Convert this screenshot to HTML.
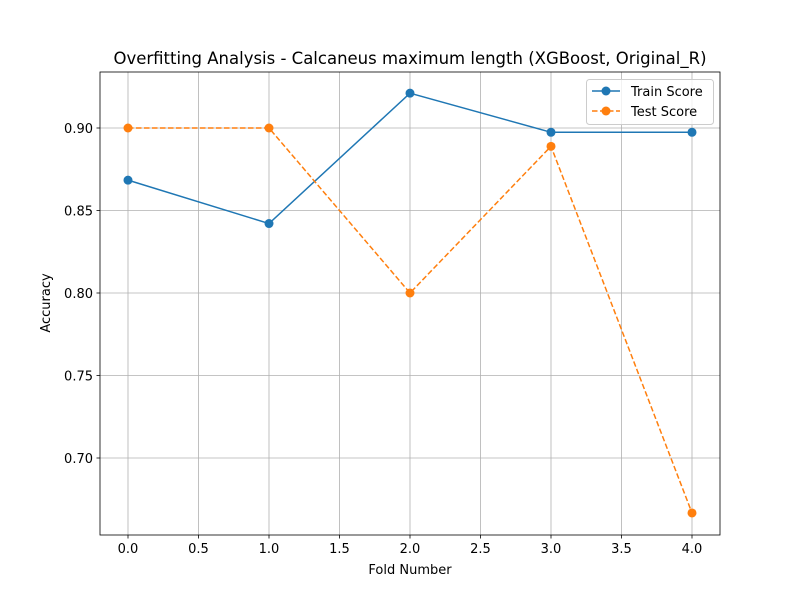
<!DOCTYPE html>
<html><head><meta charset="utf-8"><style>
body{margin:0;background:#fff;}
svg text{font-family:"DejaVu Sans","Liberation Sans",sans-serif;}
</style></head><body>
<svg id="chart" width="800" height="600" xmlns="http://www.w3.org/2000/svg">
<rect width="800" height="600" fill="#fff"/>
<g id="grid"></g><g id="axes"></g><g id="series"></g>
</svg>
<script>
const folds=[0,1,2,3,4];
const trainScores=[0.8684,0.8421,0.9211,0.8974,0.8974];
const testScores=[0.9,0.9,0.8,0.8889,0.6667];
const xTicks=[0.0,0.5,1.0,1.5,2.0,2.5,3.0,3.5,4.0];
const yTicks=[0.70,0.75,0.80,0.85,0.90];
const L=100,R=720,T=72,B=535;
const xs=v=>128+v*141;
const ys=v=>128+(0.90-v)*1650;
const NS="http://www.w3.org/2000/svg";
function mk(tag,attrs,parent,text){const e=document.createElementNS(NS,tag);for(const k in attrs)e.setAttribute(k,attrs[k]);if(text!==undefined)e.textContent=text;parent.appendChild(e);return e;}
const grid=document.getElementById('grid'),axes=document.getElementById('axes'),ser=document.getElementById('series'),svg=document.getElementById('chart');
xTicks.forEach(t=>{const x=xs(t);
 const g=mk('line',{x1:x,x2:x,y1:T,y2:B,stroke:'#b0b0b0','stroke-width':0.8},grid);
 
 
 mk('line',{x1:x,x2:x,y1:B,y2:B+3.5,stroke:'#000','stroke-width':0.8},axes);
 const l=mk('text',{x:x,y:B+18,'font-size':13,'text-anchor':'middle'},axes,t.toFixed(1));
 
 
});
yTicks.forEach(t=>{const y=ys(t);
 const g=mk('line',{x1:L,x2:R,y1:y,y2:y,stroke:'#b0b0b0','stroke-width':0.8},grid);
 
 
 mk('line',{x1:L-3.5,x2:L,y1:y,y2:y,stroke:'#000','stroke-width':0.8},axes);
 const l=mk('text',{x:L-7,y:y+5,'font-size':13,'text-anchor':'end'},axes,t.toFixed(2));
 
 
});
const fr=mk('rect',{x:L,y:T,width:R-L,height:B-T,fill:'none',stroke:'#000','stroke-width':0.8},axes);


const tt=mk('text',{x:410,y:64,'font-size':16.5,'text-anchor':'middle'},svg,'Overfitting Analysis - Calcaneus maximum length (XGBoost, Original_R)');


const xl=mk('text',{x:410,y:574,'font-size':13,'text-anchor':'middle'},svg,'Fold Number');


const yl=mk('text',{x:0,y:0,'font-size':13,'text-anchor':'middle',transform:'translate(50,303) rotate(-90)'},svg,'Accuracy');


function series(vals,color,dash,name){
 const p=mk('polyline',{points:folds.map((f,i)=>xs(f)+','+ys(vals[i])).join(' '),fill:'none',stroke:color,'stroke-width':1.5,'stroke-dasharray':dash},ser);
 
 
 folds.forEach((f,i)=>{const c=mk('circle',{cx:xs(f),cy:ys(vals[i]),r:4.5,fill:color},ser);
  
  });
}
series(trainScores,'#1f77b4','none','train-score');
series(testScores,'#ff7f0e','5.5,2.5','test-score');
const lg=mk('g',{},svg);


mk('rect',{x:586.5,y:79.5,width:127,height:45,rx:3,fill:'#fff','fill-opacity':0.8,stroke:'#ccc'},lg);
[['Train Score','#1f77b4','none',91],['Test Score','#ff7f0e','5.5,2.5',111]].forEach(([n,c,d,y])=>{
 const e=mk('g',{},lg);
 
 
 mk('line',{x1:592,x2:620,y1:y,y2:y,stroke:c,'stroke-width':1.5,'stroke-dasharray':d},e);
 mk('circle',{cx:606,cy:y,r:4.5,fill:c},e);
 mk('text',{x:631,y:y+5,'font-size':13},e,n);
});
</script>
</body></html>
